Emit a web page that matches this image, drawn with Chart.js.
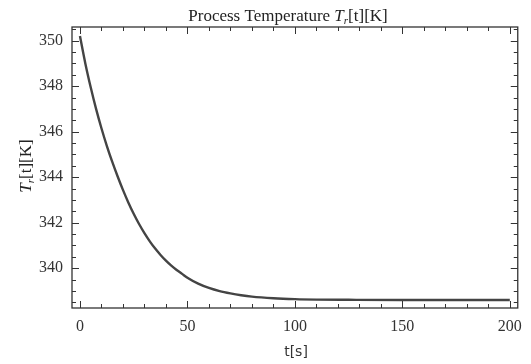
<!DOCTYPE html>
<html>
<head>
<meta charset="utf-8">
<script src="https://cdn.jsdelivr.net/npm/chart.js@4"></script>
<style>
html,body{margin:0;padding:0;background:#fff;}
#wrap{width:531px;height:364px;position:relative;}
</style>
</head>
<body>
<div id="wrap"><canvas id="c" width="531" height="364"></canvas></div>
<script>
// Data
const timeS = [0, 2.5, 5, 7.5, 10, 12.5, 15, 17.5, 20, 22.5, 25, 27.5, 30, 32.5, 35, 37.5, 40, 42.5, 45, 47.5, 50, 55, 60, 65, 70, 75, 80, 90, 100, 110, 125, 150, 200];
const tempK = [350.2, 349.0, 347.95, 347.0, 346.15, 345.38, 344.68, 344.04, 343.44, 342.89, 342.39, 341.94, 341.54, 341.18, 340.86, 340.58, 340.33, 340.11, 339.92, 339.75, 339.58, 339.32, 339.13, 338.99, 338.89, 338.81, 338.75, 338.68, 338.64, 338.62, 338.61, 338.6, 338.6];
const xMajorTicks = [0, 50, 100, 150, 200];
const xMinorTicks = [10,20,30,40,60,70,80,90,110,120,130,140,160,170,180,190];
const yMajorTicks = [340, 342, 344, 346, 348, 350];
const yMinorTicks = [338.5,339,339.5,340.5,341,341.5,342.5,343,343.5,344.5,345,345.5,346.5,347,347.5,348.5,349,349.5,350.5];

const points = timeS.map((t, i) => ({x: t, y: tempK[i]}));
const SERIF = '"Liberation Serif", "DejaVu Serif", serif';

const framePlugin = {
  id: 'frame',
  afterDraw(chart) {
    const {ctx, chartArea: a, scales: {x, y}} = chart;
    ctx.save();
    ctx.strokeStyle = '#333';
    ctx.lineWidth = 1.3;
    ctx.strokeRect(a.left, a.top, a.right - a.left, a.bottom - a.top);
    ctx.lineWidth = 1;
    const tick = (v, len, isX) => {
      if (isX) {
        const px = Math.round(x.getPixelForValue(v)) + 0.5;
        ctx.beginPath();
        ctx.moveTo(px, a.bottom); ctx.lineTo(px, a.bottom - len);
        ctx.moveTo(px, a.top); ctx.lineTo(px, a.top + len);
        ctx.stroke();
      } else {
        const py = Math.round(y.getPixelForValue(v)) + 0.5;
        ctx.beginPath();
        ctx.moveTo(a.left, py); ctx.lineTo(a.left + len, py);
        ctx.moveTo(a.right, py); ctx.lineTo(a.right - len, py);
        ctx.stroke();
      }
    };
    xMajorTicks.forEach(v => tick(v, 7, true));
    xMinorTicks.forEach(v => tick(v, 4, true));
    yMajorTicks.forEach(v => tick(v, 7, false));
    yMinorTicks.forEach(v => tick(v, 4, false));

    // Title
    ctx.fillStyle = '#222';
    ctx.textBaseline = 'alphabetic';
    const parts = [
      {t: 'Process Temperature ', f: '17px ' + SERIF},
      {t: 'T', f: 'italic 17px ' + SERIF},
      {t: 'r', f: 'italic 11px ' + SERIF, dy: 3},
      {t: '[t][K]', f: '17px ' + SERIF}
    ];
    let w = 0;
    parts.forEach(p => { ctx.font = p.f; p.w = ctx.measureText(p.t).width; w += p.w; });
    let cx = 288 - w / 2;
    parts.forEach(p => { ctx.font = p.f; ctx.fillText(p.t, cx, 21 + (p.dy || 0)); cx += p.w; });

    // Y axis label (rotated)
    ctx.save();
    ctx.translate(31, 166);
    ctx.rotate(-Math.PI / 2);
    const yp = [
      {t: 'T', f: 'italic 17px ' + SERIF},
      {t: 'r', f: 'italic 11px ' + SERIF, dy: 3},
      {t: '[t][K]', f: '17px ' + SERIF}
    ];
    w = 0;
    yp.forEach(p => { ctx.font = p.f; p.w = ctx.measureText(p.t).width; w += p.w; });
    cx = -w / 2;
    yp.forEach(p => { ctx.font = p.f; ctx.fillText(p.t, cx, 0 + (p.dy || 0)); cx += p.w; });
    ctx.restore();

    // X axis label
    ctx.font = '14px "DejaVu Sans", sans-serif';
    ctx.textAlign = 'center';
    ctx.textBaseline = 'middle';
    ctx.fillStyle = '#333';
    ctx.fillText('t[s]', 296, 352);
    ctx.restore();
  }
};

new Chart(document.getElementById('c'), {
  type: 'line',
  data: {
    datasets: [{
      data: points,
      borderColor: '#444',
      borderWidth: 2.4,
      pointRadius: 0,
      cubicInterpolationMode: 'monotone',
      fill: false
    }]
  },
  options: {
    responsive: false,
    animation: false,
    layout: {padding: {top: 27, right: 11, left: 0, bottom: 0}},
    plugins: {legend: {display: false}, tooltip: {enabled: false}, title: {display: false}},
    scales: {
      x: {
        type: 'linear',
        min: -3.7, max: 203.7,
        afterFit(s) { s.height = 56; },
        afterBuildTicks(s) { s.ticks = xMajorTicks.map(v => ({value: v})); },
        grid: {display: false, drawTicks: false},
        border: {display: false},
        ticks: {padding: 9, color: '#333', font: {family: SERIF, size: 16}, maxRotation: 0}
      },
      y: {
        type: 'linear',
        min: 338.25, max: 350.6,
        afterFit(s) { s.width = 72; },
        afterBuildTicks(s) { s.ticks = yMajorTicks.map(v => ({value: v})); },
        grid: {display: false, drawTicks: false},
        border: {display: false},
        ticks: {padding: 9, color: '#333', font: {family: SERIF, size: 16}}
      }
    }
  },
  plugins: [framePlugin]
});
</script>
</body>
</html>
